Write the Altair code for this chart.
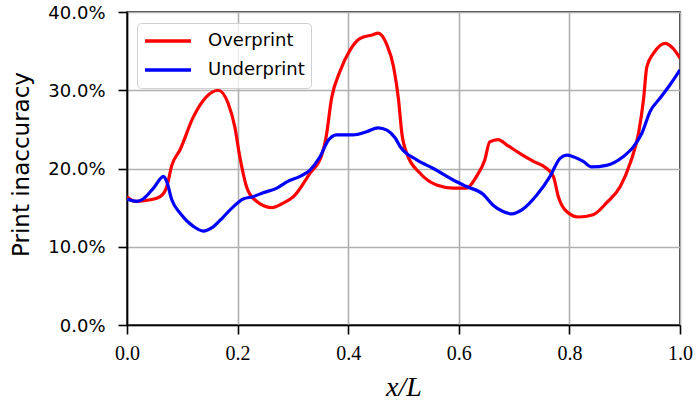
import altair as alt
import pandas as pd

series = ["Overprint", "Underprint"]
colors = ["#ff0000", "#0000ff"]

over_x = [0.0, 0.015, 0.042, 0.060, 0.072, 0.081, 0.096, 0.120, 0.144, 0.165,
          0.183, 0.195, 0.204, 0.216, 0.231, 0.262, 0.283, 0.301, 0.331, 0.352,
          0.360, 0.370, 0.385, 0.403, 0.421, 0.445, 0.454, 0.470, 0.482, 0.491,
          0.497, 0.506, 0.530, 0.560, 0.590, 0.614, 0.632, 0.647, 0.656, 0.671,
          0.687, 0.711, 0.735, 0.759, 0.771, 0.780, 0.795, 0.816, 0.843, 0.867,
          0.892, 0.910, 0.925, 0.934, 0.940, 0.952, 0.973, 0.988, 1.0]
over_y = [16.4, 15.8, 16.0, 16.4, 17.7, 20.4, 22.4, 26.6, 29.2, 30.0,
          28.3, 25.3, 21.5, 17.7, 16.0, 15.0, 15.6, 16.4, 19.4, 21.7,
          24.0, 29.0, 32.4, 35.1, 36.6, 37.1, 37.3, 35.8, 33.0, 28.8,
          24.5, 21.9, 19.4, 17.9, 17.5, 17.5, 19.0, 21.1, 23.4, 23.7,
          23.0, 21.9, 20.9, 20.0, 19.0, 16.4, 14.5, 13.8, 14.1, 15.6,
          17.7, 20.7, 24.5, 28.8, 33.0, 34.7, 36.0, 35.3, 34.1]

under_x = [0.0, 0.018, 0.029, 0.048, 0.066, 0.072, 0.081, 0.096, 0.120, 0.138,
           0.153, 0.174, 0.192, 0.210, 0.228, 0.246, 0.271, 0.289, 0.313, 0.331,
           0.349, 0.364, 0.379, 0.400, 0.409, 0.433, 0.454, 0.470, 0.485, 0.494,
           0.524, 0.554, 0.596, 0.614, 0.644, 0.662, 0.680, 0.696, 0.714, 0.741,
           0.765, 0.783, 0.795, 0.807, 0.825, 0.840, 0.867, 0.897, 0.916, 0.931,
           0.946, 0.964, 0.982, 1.0]
under_y = [16.1, 15.8, 16.1, 17.5, 19.0, 18.3, 16.0, 14.3, 12.6, 12.0,
           12.4, 13.8, 15.1, 16.1, 16.4, 16.9, 17.5, 18.3, 19.0, 19.8,
           21.5, 23.6, 24.3, 24.3, 24.3, 24.7, 25.2, 24.9, 23.9, 22.8,
           21.1, 20.0, 18.3, 17.7, 16.7, 15.3, 14.5, 14.2, 14.7, 16.6,
           19.0, 21.3, 21.7, 21.5, 20.9, 20.2, 20.4, 21.5, 22.8, 24.5,
           27.3, 29.0, 30.7, 32.6]

x_ticks = [0.0, 0.2, 0.4, 0.6, 0.8, 1.0]
y_ticks = [0, 10, 20, 30, 40]

df = pd.concat([
    pd.DataFrame({"x": over_x, "y": over_y, "series": series[0]}),
    pd.DataFrame({"x": under_x, "y": under_y, "series": series[1]}),
], ignore_index=True)

chart = alt.Chart(df).mark_line(strokeWidth=3.2, interpolate="monotone", clip=True).encode(
    x=alt.X("x:Q",
            scale=alt.Scale(domain=[0, 1], nice=False, zero=False),
            axis=alt.Axis(values=x_ticks, format=".1f", title="x/L",
                          labelFont="Liberation Serif", labelFontSize=20,
                          labelBaseline="alphabetic", labelPadding=25,
                          labelFlush=False,
                          titleFont="Liberation Serif", titleFontStyle="italic",
                          titleFontSize=28, titleFontWeight="normal",
                          titleX=276.5, titleY=70, titleBaseline="alphabetic",
                          titleAlign="center")),
    y=alt.Y("y:Q",
            scale=alt.Scale(domain=[0, 40], nice=False),
            axis=alt.Axis(values=y_ticks,
                          labelExpr="format(datum.value, '.1f') + '%'",
                          title="Print inaccuracy",
                          labelFont="DejaVu Sans", labelFontSize=18,
                          labelPadding=13, labelOffset=1, labelFlush=False,
                          titleFont="DejaVu Sans", titleFontSize=23,
                          titleFontWeight="normal", titleAngle=270,
                          titleX=-99, titleY=152, titleBaseline="alphabetic",
                          titleAlign="center")),
    color=alt.Color("series:N",
                    scale=alt.Scale(domain=series, range=colors),
                    legend=alt.Legend(orient="none", legendX=10, legendY=11,
                                      title=None, symbolType="stroke",
                                      symbolSize=2116, symbolStrokeWidth=3.5,
                                      clipHeight=24, rowPadding=5,
                                      labelFont="DejaVu Sans", labelFontSize=18,
                                      labelColor="black", labelOffset=15,
                                      strokeColor="#d0d0d0",
                                      fillColor="rgba(255,255,255,0.8)",
                                      cornerRadius=4, padding=6)),
).properties(
    width=553, height=313,
    autosize="none",
    padding={"left": 127, "top": 12, "right": 16, "bottom": 79},
).configure_view(
    stroke="black", strokeWidth=1.6
).configure_axis(
    domainColor="black", domainWidth=1.6,
    tickColor="black", tickWidth=1.6, tickSize=9,
    gridColor="#b0b0b0", gridWidth=1.6,
    labelColor="black", titleColor="black",
)

chart.save("out.html", embed_options={"renderer": "svg", "actions": False})
